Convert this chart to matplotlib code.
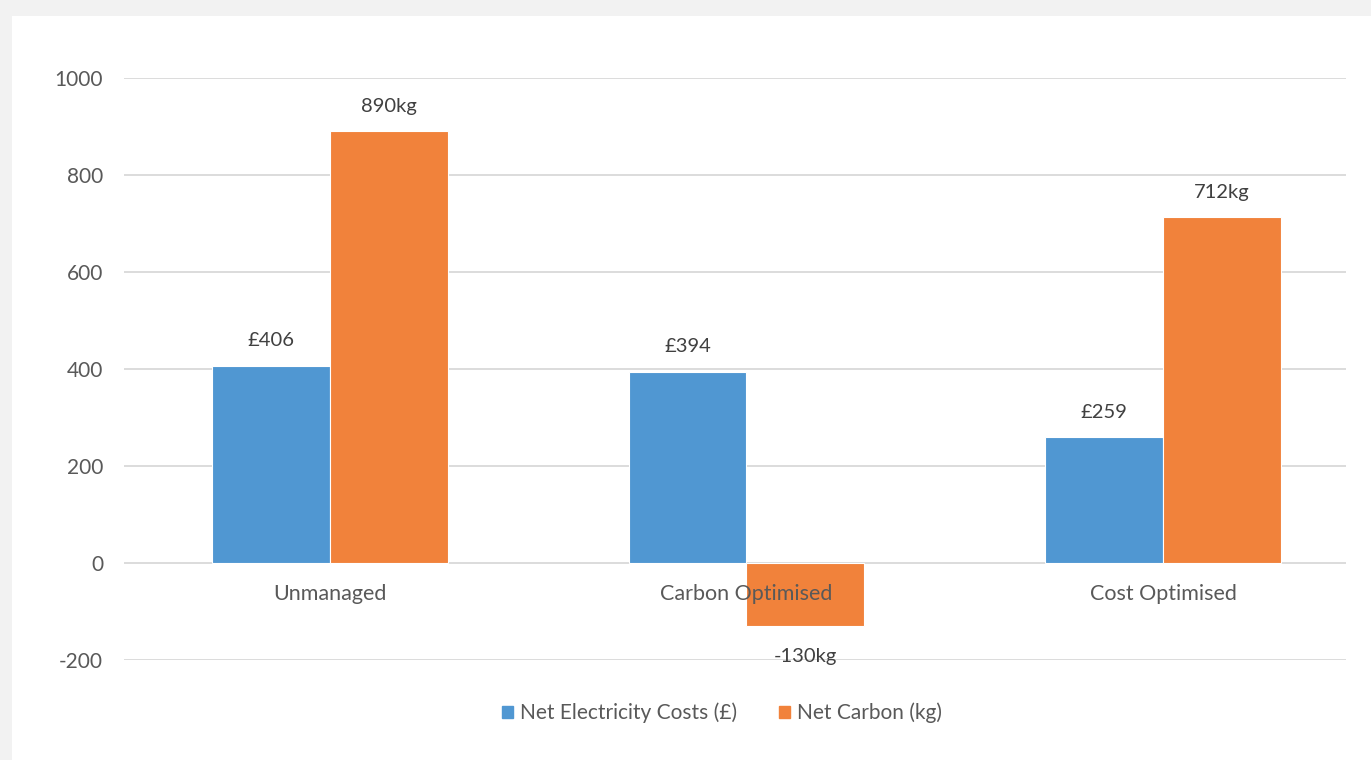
import matplotlib.pyplot as plt
import matplotlib.patches as mpatches
import numpy as np

categories = ["Unmanaged", "Carbon Optimised", "Cost Optimised"]
cost_values = [406, 394, 259]
carbon_values = [890, -130, 712]
cost_labels = ["£406", "£394", "£259"]
carbon_labels = ["890kg", "-130kg", "712kg"]
series_names = ["Net Electricity Costs (£)", "Net Carbon (kg)"]
yticks = [-200, 0, 200, 400, 600, 800, 1000]

BLUE = "#5097D2"
ORANGE = "#F1823B"
TXT = "#595959"
LBL = "#404040"
FONT = ["Lato", "DejaVu Sans"]
plt.rcParams['font.family'] = FONT

fig = plt.figure(figsize=(13.71, 7.6), dpi=100)
fig.patch.set_facecolor("#F2F2F2")
bg = fig.add_axes([12/1371, 0, 1 - 12/1371, 1 - 16/760])
bg.set_xlim(0, 1); bg.set_ylim(0, 1); bg.axis("off")
bg.add_patch(mpatches.Rectangle((0, 0), 1, 1, facecolor="white", edgecolor="none"))

ax = fig.add_axes([124/1371, 1 - 660/760, (1346 - 124)/1371, (660 - 77.7)/760])
ax.set_facecolor("none")
x = np.arange(len(categories))
w = 0.283
ax.bar(x - w/2, cost_values, w, color=BLUE, edgecolor="white", linewidth=0.8, zorder=3)
ax.bar(x + w/2, carbon_values, w, color=ORANGE, edgecolor="white", linewidth=0.8, zorder=3)

ax.set_xlim(-0.4946, 2.4394)
ax.set_ylim(-200, 1000)
ax.set_yticks(yticks)
ax.set_yticklabels([str(v) for v in yticks], color=TXT, fontsize=15)
ax.tick_params(axis="y", length=0, pad=15)
ax.set_xticks([])
for s in ax.spines.values():
    s.set_visible(False)
ax.yaxis.grid(True, color="#D9D9D9", linewidth=1.3, zorder=0)
ax.set_axisbelow(True)

for xi, cat in zip(x, categories):
    ax.annotate(cat, (xi, 0), xytext=(0, -31), textcoords="offset pixels",
                ha="center", va="center", fontsize=15.5, color=TXT, zorder=5)

for xi, v, lab in zip(x - w/2, cost_values, cost_labels):
    off = 25 if v >= 0 else -30
    ax.annotate(lab, (xi, v), xytext=(0, off), textcoords="offset pixels",
                ha="center", va="center", fontsize=14.5, color=LBL, zorder=5)
for xi, v, lab in zip(x + w/2, carbon_values, carbon_labels):
    off = 25 if v >= 0 else -30
    ax.annotate(lab, (xi, v), xytext=(0, off), textcoords="offset pixels",
                ha="center", va="center", fontsize=14.5, color=LBL, zorder=5)

handles = [mpatches.Patch(color=BLUE), mpatches.Patch(color=ORANGE)]
fig.legend(handles, series_names, loc="center", bbox_to_anchor=(722/1371, 1 - 713/760),
           ncol=2, frameon=False, fontsize=15, labelcolor=TXT,
           handlelength=0.53, handleheight=0.53, handletextpad=0.33, columnspacing=2.0)

fig.savefig("out.png", dpi=100, facecolor=fig.get_facecolor())
